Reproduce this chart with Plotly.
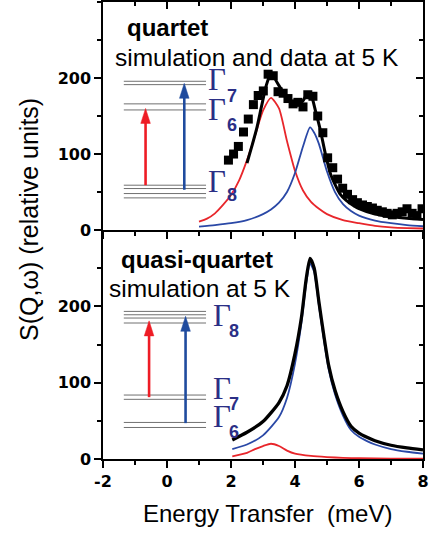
import plotly.graph_objects as go

# ---------------- data ----------------
# top panel: quartet
top_red_E = [1.0, 1.25, 1.5, 1.75, 2.0, 2.25, 2.5, 2.75, 3.0, 3.25, 3.5, 3.75, 4.0, 4.25, 4.5, 4.75, 5.0, 5.5, 6.0, 6.5, 7.0, 7.5, 8.0]
top_red_S = [11, 15, 22, 33, 46, 65, 92, 124, 157, 174, 160, 117, 78, 52, 37, 28, 21, 13, 9, 5.5, 3.5, 2.5, 2]

top_blue_E = [1.0, 1.5, 2.0, 2.5, 3.0, 3.25, 3.5, 3.75, 4.0, 4.25, 4.47, 4.6, 4.75, 5.0, 5.25, 5.5, 5.75, 6.0, 6.5, 7.0, 7.5, 8.0]
top_blue_S = [4.5, 6.5, 9, 13, 21, 27, 36, 50, 75, 110, 135, 128, 113, 77, 50, 34, 25, 19, 12.5, 9, 6.5, 5]

top_black_E = [2.5, 2.65, 2.8, 2.95, 3.1, 3.22, 3.35, 3.5, 3.65, 3.8, 3.95, 4.1, 4.25, 4.4, 4.5, 4.65, 4.8, 4.95, 5.1, 5.25, 5.4, 5.6, 5.8, 6.0, 6.5, 7.0, 7.5, 8.0]
top_black_S = [88, 110, 133, 162, 190, 203, 200, 190, 180, 172, 167, 165, 170, 180, 178, 155, 130, 100, 75, 60, 48, 39, 33, 28, 21, 17.5, 15.5, 14]

data_E = [1.92, 2.08, 2.23, 2.39, 2.54, 2.70, 2.85, 3.01, 3.16, 3.32, 3.47, 3.63, 3.78, 3.94, 4.09, 4.25, 4.40, 4.56, 4.71, 4.87,
          5.02, 5.18, 5.33, 5.49, 5.64, 5.80, 5.95, 6.11, 6.26, 6.42, 6.57, 6.73, 6.88, 7.04, 7.19, 7.35, 7.50, 7.66, 7.81, 7.97]
data_S = [92, 100, 110, 129, 146, 165, 177, 183, 205, 203, 182, 180, 173, 166, 168, 162, 178, 176, 150, 128,
          95, 82, 67, 55, 47, 40, 36, 33, 31, 29, 26, 24, 22, 20, 22, 24, 28, 22, 19, 28]

# bottom panel: quasi-quartet
bot_red_E = [2.04, 2.5, 2.75, 3.0, 3.25, 3.5, 3.75, 4.0, 4.5, 5.0, 5.5, 6.0, 7.0, 8.0]
bot_red_S = [3.5, 8, 13, 17, 20, 17, 11, 7, 4, 2.5, 1.5, 1, 0.5, 0.3]

bot_blue_E = [2.04, 2.5, 3.0, 3.5, 3.75, 4.0, 4.2, 4.35, 4.47, 4.6, 4.75, 4.9, 5.05, 5.25, 5.5, 5.75, 6.0, 6.25, 6.5, 7.0, 7.5, 8.0]
bot_blue_S = [13, 19, 31, 55, 80, 125, 178, 230, 256, 245, 200, 157, 118, 85, 57, 38, 29, 23.5, 19, 13, 9.5, 7]

bot_black_E = [2.04, 2.5, 3.0, 3.5, 3.75, 4.0, 4.2, 4.35, 4.47, 4.6, 4.75, 4.9, 5.05, 5.25, 5.5, 5.75, 6.0, 6.25, 6.5, 7.0, 7.5, 8.0]
bot_black_S = [25, 35, 49, 74, 96, 138, 185, 236, 263, 250, 205, 162, 123, 90, 62, 43, 34, 28.5, 24, 18, 14.5, 12]

# level scheme (energy-level lines, in S units) and transition arrows
level_E_span = [-1.35, 1.22]
top_levels = [195.7, 191.3, 166, 158, 59, 54.6, 48, 42.3]
bot_levels = [193.4, 189, 184.7, 178.2, 83.8, 78.2, 47.9, 41.3]
top_arrows = {"red": (-0.67, 59, 160), "blue": (0.54, 53, 193)}
bot_arrows = {"red": (-0.56, 81, 181), "blue": (0.58, 47, 187)}

top_gamma = [("7", 198, 177), ("6", 159, 138), ("8", 64, 46)]
bot_gamma = [("8", 188, 168), ("7", 93, 72), ("6", 56, 36)]

x_tickvals = [-2, 0, 2, 4, 6, 8]
x_ticktext = ["-2", "0", "2", "4", "6", "8"]
y_tickvals = [0, 100, 200]

# ---------------- style ----------------
RED = "#e8262b"
BLUE = "#2a48a6"
RED_ARROW = "#ee1c25"
BLUE_ARROW = "#1f4b9e"
NAVY = "#2b2f86"
GRAY = "#707070"
SANS = "Liberation Sans, Arial, sans-serif"
TICKFONT = dict(family="DejaVu Sans", size=16, color="black", weight="bold")

fig = go.Figure()

def add_line(E, S, color, width, xa, ya):
    fig.add_trace(go.Scatter(x=E, y=S, mode="lines", line=dict(color=color, width=width, shape="spline", smoothing=0.6),
                             xaxis=xa, yaxis=ya, showlegend=False, hoverinfo="skip"))

add_line(top_red_E, top_red_S, RED, 1.8, "x", "y")
add_line(top_blue_E, top_blue_S, BLUE, 1.8, "x", "y")
fig.add_trace(go.Scatter(x=data_E, y=data_S, mode="markers", marker=dict(symbol="square", size=9, color="black"),
                         xaxis="x", yaxis="y", showlegend=False, hoverinfo="skip"))
add_line(top_black_E, top_black_S, "black", 3, "x", "y")

add_line(bot_red_E, bot_red_S, RED, 1.8, "x2", "y2")
add_line(bot_blue_E, bot_blue_S, BLUE, 1.8, "x2", "y2")
add_line(bot_black_E, bot_black_S, "black", 3.3, "x2", "y2")

# empty traces that register the mirror (top / right) axes so that they are drawn
for xa, ya in [("x3", "y"), ("x", "y3"), ("x2", "y4")]:
    fig.add_trace(go.Scatter(x=[], y=[], xaxis=xa, yaxis=ya, showlegend=False, hoverinfo="skip"))

# ---------------- axes ----------------
XR = [-2, 8]
YR = [0, 300]
SPLIT = 0.501
common_x = dict(range=XR, showgrid=False, zeroline=False, showline=True, linecolor="black", linewidth=1.5,
                tickvals=x_tickvals, ticktext=x_ticktext, ticklen=7, tickwidth=1.5, tickcolor="black",
                ticklabeloverflow="allow",
                minor=dict(dtick=1, tick0=0, ticklen=4, tickwidth=1.5, tickcolor="black"))
common_y = dict(range=YR, showgrid=False, zeroline=False, showline=True, linecolor="black", linewidth=1.5,
                tickvals=y_tickvals, ticklen=7, tickwidth=1.5, tickcolor="black",
                minor=dict(dtick=50, tick0=0, ticklen=4, tickwidth=1.5, tickcolor="black"))

fig.update_layout(
    xaxis=dict(common_x, domain=[0, 1], anchor="y", ticks="outside", minor_ticks="outside", showticklabels=False),
    xaxis2=dict(common_x, domain=[0, 1], anchor="y2", ticks="outside", minor_ticks="outside", showticklabels=True,
                tickfont=TICKFONT),
    xaxis3=dict(common_x, overlaying="x", anchor="y", side="top", ticks="inside", minor_ticks="inside",
                showticklabels=False),
    yaxis=dict(common_y, domain=[SPLIT, 1], anchor="x", ticks="outside", minor_ticks="outside", tickfont=TICKFONT),
    yaxis2=dict(common_y, domain=[0, SPLIT], anchor="x2", ticks="outside", minor_ticks="outside", tickfont=TICKFONT),
    yaxis3=dict(common_y, domain=[SPLIT, 1], overlaying="y", anchor="x", side="right", ticks="inside",
                minor_ticks="inside", showticklabels=False),
    yaxis4=dict(common_y, domain=[0, SPLIT], overlaying="y2", anchor="x2", side="right", ticks="inside",
                minor_ticks="inside", showticklabels=False),
)

# ---------------- level schemes ----------------
shapes = []
annotations = []
PX_PER_E = 32.0
PX_PER_S = 0.762
HEAD_LEN = 15 / PX_PER_S
HEAD_HALF = 4.8 / PX_PER_E

def level_scheme(levels, arrows, gammas, xr, yr, gx, dx):
    for lv in levels:
        shapes.append(dict(type="line", xref=xr, yref=yr, x0=level_E_span[0], x1=level_E_span[1], y0=lv, y1=lv,
                           line=dict(color=GRAY, width=1)))
    for key, (xe, y0, y1) in arrows.items():
        col = RED_ARROW if key == "red" else BLUE_ARROW
        shapes.append(dict(type="line", xref=xr, yref=yr, x0=xe, x1=xe, y0=y0, y1=y1 - HEAD_LEN + 1,
                           line=dict(color=col, width=2.6)))
        path = (f"M {xe - HEAD_HALF},{y1 - HEAD_LEN} L {xe},{y1} L {xe + HEAD_HALF},{y1 - HEAD_LEN} Z")
        shapes.append(dict(type="path", xref=xr, yref=yr, path=path, fillcolor=col, line=dict(color=col, width=0.5)))
    for digit, yg, yd in gammas:
        annotations.append(dict(xref=xr, yref=yr, x=gx, y=yg, text="Γ", showarrow=False, xanchor="center",
                                yanchor="middle", borderpad=0,
                                font=dict(family="Liberation Serif, Times New Roman, serif", size=31, color=NAVY)))
        annotations.append(dict(xref=xr, yref=yr, x=gx + dx, y=yd, text=digit, showarrow=False, xanchor="center",
                                yanchor="middle", borderpad=0,
                                font=dict(family=SANS, size=18, color=NAVY, weight="bold")))

level_scheme(top_levels, top_arrows, top_gamma, "x", "y", 1.55, 0.47)
level_scheme(bot_levels, bot_arrows, bot_gamma, "x2", "y2", 1.71, 0.38)

# ---------------- texts ----------------
annotations += [
    dict(xref="x", yref="y", x=0.0, y=267, text="<b>quartet</b>", showarrow=False, xanchor="center", yanchor="middle",
         font=dict(family=SANS, size=24, color="black")),
    dict(xref="x", yref="y", x=2.8, y=227, text="simulation and data at 5 K", showarrow=False, xanchor="center",
         yanchor="middle", font=dict(family=SANS, size=24.5, color="black")),
    dict(xref="x2", yref="y2", x=0.95, y=262, text="<b>quasi-quartet</b>", showarrow=False, xanchor="center",
         yanchor="middle", font=dict(family=SANS, size=24, color="black")),
    dict(xref="x2", yref="y2", x=1.03, y=224, text="simulation at 5 K", showarrow=False, xanchor="center",
         yanchor="middle", font=dict(family=SANS, size=24.5, color="black")),
    dict(xref="paper", yref="paper", x=0.5, y=0, yshift=-54, xshift=4, text="Energy Transfer\u00a0 (meV)",
         showarrow=False, xanchor="center", yanchor="middle", font=dict(family=SANS, size=24, color="black")),
    dict(xref="paper", yref="paper", x=0, xshift=-74, y=0.523, text="S(Q,ω) (relative units)", textangle=-90,
         showarrow=False, xanchor="center", yanchor="middle", font=dict(family=SANS, size=25, color="black")),
]

fig.update_layout(
    width=432, height=536,
    margin=dict(l=103, r=9, t=2, b=77),
    paper_bgcolor="white", plot_bgcolor="white",
    shapes=shapes, annotations=annotations,
    showlegend=False,
)

fig.write_html("out.html", config={"displayModeBar": False},
               post_script="document.body.style.margin='0px';")
